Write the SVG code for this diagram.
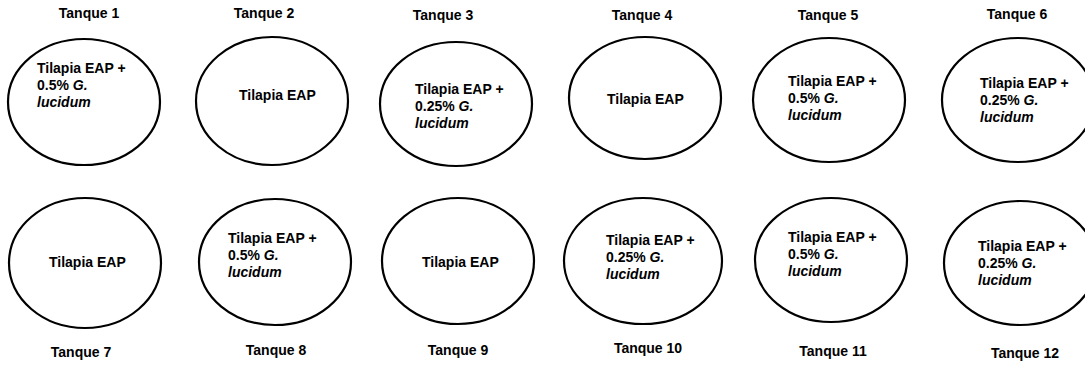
<svg xmlns="http://www.w3.org/2000/svg" width="1085" height="365" viewBox="0 0 1085 365">
<style>
.tank{fill:#fff;stroke:#000;stroke-width:2.2}
text{font-family:"Liberation Sans",Arial,sans-serif;font-weight:bold;font-size:14px;fill:#000}
.lbl{text-anchor:middle}
.it{font-style:italic}
</style>
<rect width="1085" height="365" fill="#fff"/>
<g id="tanque1"><ellipse class="tank" cx="84" cy="102" rx="76" ry="63"/><text class="lbl" x="89" y="18">Tanque 1</text>
<text x="37" y="73">Tilapia EAP +</text><text x="37" y="90">0.5% <tspan class="it">G.</tspan></text><text x="37" y="107" class="it">lucidum</text></g>
<g id="tanque2"><ellipse class="tank" cx="272" cy="101" rx="76" ry="64"/><text class="lbl" x="264" y="18">Tanque 2</text>
<text x="239" y="100">Tilapia EAP</text></g>
<g id="tanque3"><ellipse class="tank" cx="456" cy="104" rx="76" ry="62"/><text class="lbl" x="443" y="20">Tanque 3</text>
<text x="415" y="94">Tilapia EAP +</text><text x="415" y="111">0.25% <tspan class="it">G.</tspan></text><text x="415" y="128" class="it">lucidum</text></g>
<g id="tanque4"><ellipse class="tank" cx="645" cy="98" rx="76" ry="61"/><text class="lbl" x="642" y="20">Tanque 4</text>
<text x="607" y="104">Tilapia EAP</text></g>
<g id="tanque5"><ellipse class="tank" cx="829" cy="100" rx="76" ry="62"/><text class="lbl" x="828" y="20">Tanque 5</text>
<text x="788" y="86">Tilapia EAP +</text><text x="788" y="103">0.5% <tspan class="it">G.</tspan></text><text x="788" y="120" class="it">lucidum</text></g>
<g id="tanque6"><ellipse class="tank" cx="1018" cy="100" rx="76" ry="62"/><text class="lbl" x="1017" y="19">Tanque 6</text>
<text x="980" y="88">Tilapia EAP +</text><text x="980" y="105">0.25% <tspan class="it">G.</tspan></text><text x="980" y="122" class="it">lucidum</text></g>
<g id="tanque7"><ellipse class="tank" cx="85" cy="263" rx="76" ry="65"/><text class="lbl" x="81" y="357">Tanque 7</text>
<text x="49" y="267">Tilapia EAP</text></g>
<g id="tanque8"><ellipse class="tank" cx="275" cy="262" rx="76" ry="63"/><text class="lbl" x="276" y="355">Tanque 8</text>
<text x="228" y="243">Tilapia EAP +</text><text x="228" y="260">0.5% <tspan class="it">G.</tspan></text><text x="228" y="277" class="it">lucidum</text></g>
<g id="tanque9"><ellipse class="tank" cx="458" cy="261" rx="76" ry="63"/><text class="lbl" x="458" y="355">Tanque 9</text>
<text x="422" y="267">Tilapia EAP</text></g>
<g id="tanque10"><ellipse class="tank" cx="643" cy="261" rx="79" ry="63"/><text class="lbl" x="648" y="353">Tanque 10</text>
<text x="606" y="245">Tilapia EAP +</text><text x="606" y="262">0.25% <tspan class="it">G.</tspan></text><text x="606" y="279" class="it">lucidum</text></g>
<g id="tanque11"><ellipse class="tank" cx="831" cy="260" rx="76" ry="62"/><text class="lbl" x="833" y="356">Tanque 11</text>
<text x="788" y="242">Tilapia EAP +</text><text x="788" y="259">0.5% <tspan class="it">G.</tspan></text><text x="788" y="276" class="it">lucidum</text></g>
<g id="tanque12"><ellipse class="tank" cx="1020" cy="263" rx="76" ry="62"/><text class="lbl" x="1025" y="358">Tanque 12</text>
<text x="978" y="251">Tilapia EAP +</text><text x="978" y="268">0.25% <tspan class="it">G.</tspan></text><text x="978" y="285" class="it">lucidum</text></g>
<g id="connectors"/>
</svg>
